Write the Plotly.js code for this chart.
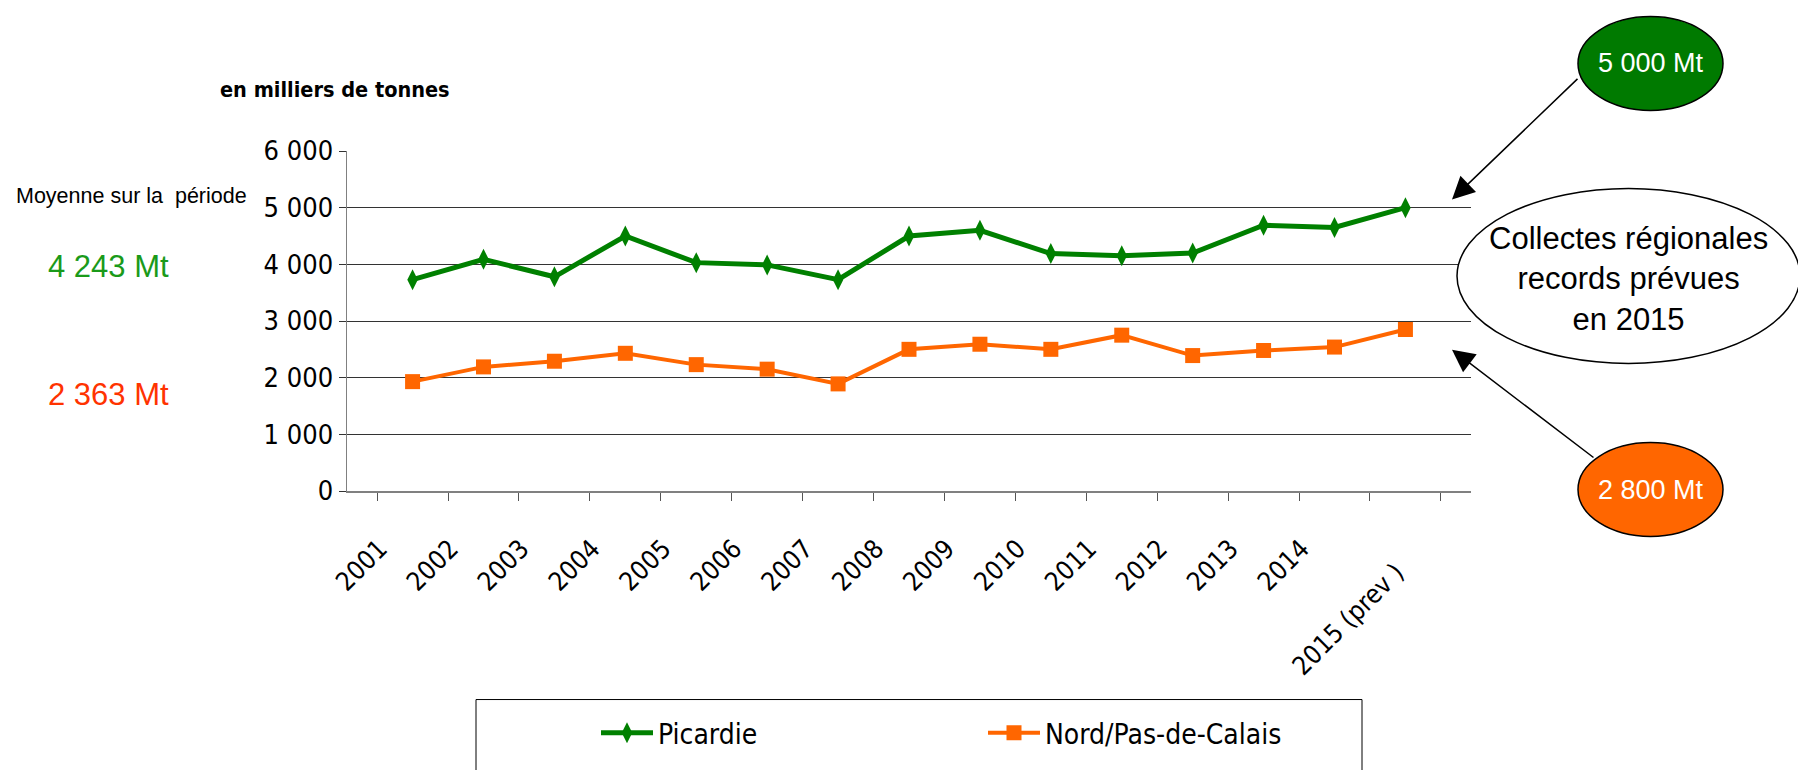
<!DOCTYPE html>
<html>
<head>
<meta charset="utf-8">
<script src="https://cdn.plot.ly/plotly-3.0.1.min.js"></script>
<style>
  html, body { margin: 0; padding: 0; background: #ffffff; }
  #chart { width: 1798px; height: 770px; }
</style>
</head>
<body>
<div id="chart"></div>
<script>
// ---- Data ----
const years = ["2001","2002","2003","2004","2005","2006","2007","2008","2009","2010","2011","2012","2013","2014","2015 (prev )"];
const yearTickText = ["2001","2002","2003","2004","2005","2006","2007","2008","2009","2010","2011","2012","2013","2014","<br>2015 (prev )"];
const picardie = [3730, 4090, 3780, 4500, 4030, 3990, 3730, 4500, 4600, 4190, 4150, 4200, 4690, 4650, 5000];
const nordPasDeCalais = [1930, 2190, 2290, 2430, 2230, 2150, 1890, 2500, 2590, 2500, 2750, 2390, 2480, 2540, 2850];
const seriesNames = ["Picardie", "Nord/Pas-de-Calais"];
const averageLabels = ["4 243 Mt", "2 363 Mt"];
const recordLabels = ["5 000 Mt", "2 800 Mt"];

const NARROW = "Liberation Sans Narrow, Arial Narrow, DejaVu Sans Condensed, sans-serif";
const SANS = "Liberation Sans, Arial, sans-serif";

// plot area geometry (px) used to convert decoration positions to paper coords
const W = 1798, H = 770;
const L = 347, R = 327, T = 151, B = 275;
const PW = W - L - R, PH = H - T - B;
const px = x => (x - L) / PW;
const py = y => (H - B - y) / PH;

const traces = [
  {
    x: years, y: picardie, name: seriesNames[0], type: "scatter", mode: "lines+markers",
    line: { color: "#008000", width: 5 },
    marker: { symbol: "diamond-tall", size: 15, color: "#008000" }
  },
  {
    x: years, y: nordPasDeCalais, name: seriesNames[1], type: "scatter", mode: "lines+markers",
    line: { color: "#FF6600", width: 4 },
    marker: { symbol: "square", size: 15, color: "#FF6600" }
  }
];

const annotations = [
  { text: "<b>en milliers de tonnes</b>", xref: "paper", yref: "paper", x: px(218), y: py(89),
    xanchor: "left", yanchor: "middle", showarrow: false, font: { family: NARROW, size: 21.5, color: "#000" } },
  { text: "Moyenne sur la  période", xref: "paper", yref: "paper", x: px(14), y: py(197),
    xanchor: "left", yanchor: "middle", showarrow: false, font: { family: SANS, size: 21.5, color: "#000" } },
  { text: averageLabels[0], xref: "paper", yref: "paper", x: px(46), y: py(268),
    xanchor: "left", yanchor: "middle", showarrow: false, font: { family: SANS, size: 31, color: "#1A9A1A" } },
  { text: averageLabels[1], xref: "paper", yref: "paper", x: px(46), y: py(397),
    xanchor: "left", yanchor: "middle", showarrow: false, font: { family: SANS, size: 31, color: "#FF3300" } },
  { text: recordLabels[0], xref: "paper", yref: "paper", x: px(1651), y: py(62),
    xanchor: "center", yanchor: "middle", showarrow: false, font: { family: SANS, size: 27, color: "#ffffff" } },
  { text: recordLabels[1], xref: "paper", yref: "paper", x: px(1651), y: py(494),
    xanchor: "center", yanchor: "middle", showarrow: false, font: { family: SANS, size: 27, color: "#ffffff" } },
  { text: "Collectes régionales<br>records prévues<br>en 2015", xref: "paper", yref: "paper", x: px(1628), y: py(280),
    xanchor: "center", yanchor: "middle", align: "center", showarrow: false,
    font: { family: SANS, size: 31, color: "#000" } },
  // arrows
  { text: "", xref: "paper", yref: "paper", x: px(1452), y: py(200), ax: 127, ay: -122,
    showarrow: true, arrowhead: 2, arrowsize: 3, arrowwidth: 1.5, arrowcolor: "#000", standoff: 0 },
  { text: "", xref: "paper", yref: "paper", x: px(1452), y: py(352), ax: 143, ay: 109,
    showarrow: true, arrowhead: 2, arrowsize: 3, arrowwidth: 1.5, arrowcolor: "#000", standoff: 0 }
];

const shapes = [
  { type: "circle", xref: "paper", yref: "paper", x0: px(1578), x1: px(1723), y0: py(15), y1: py(110),
    fillcolor: "#007A00", line: { color: "#000", width: 1.5 }, layer: "above" },
  { type: "circle", xref: "paper", yref: "paper", x0: px(1578), x1: px(1723), y0: py(446), y1: py(541),
    fillcolor: "#FF6600", line: { color: "#000", width: 1.5 }, layer: "above" },
  { type: "circle", xref: "paper", yref: "paper", x0: px(1457), x1: px(1800), y0: py(189), y1: py(366),
    fillcolor: "#ffffff", line: { color: "#000", width: 1.5 }, layer: "above" },
  // legend frame
  { type: "rect", xref: "paper", yref: "paper", x0: px(476), x1: px(1362), y0: py(706), y1: py(790),
    line: { color: "#000", width: 1 }, fillcolor: "rgba(0,0,0,0)" }
];

const layout = {
  width: W, height: H,
  margin: { l: L, r: R, t: T, b: B, pad: 0 },
  paper_bgcolor: "#ffffff", plot_bgcolor: "#ffffff",
  separators: ", ",
  showlegend: true,
  legend: {
    orientation: "h", x: px(596), y: py(740), xanchor: "left", yanchor: "middle",
    font: { family: NARROW, size: 28, color: "#000" },
    itemwidth: 52, entrywidth: 320, entrywidthmode: "pixels",
    bgcolor: "rgba(0,0,0,0)", borderwidth: 0, traceorder: "normal"
  },
  xaxis: {
    type: "category", tickson: "boundaries", ticks: "outside", ticklen: 8, tickcolor: "#555", tickwidth: 1,
    showline: true, linecolor: "#808080", linewidth: 2, showgrid: false, zeroline: false,
    tickmode: "array", tickvals: years, ticktext: yearTickText,
    tickangle: -45, ticklabelstandoff: 30, ticklabelshift: -33,
    tickfont: { family: NARROW, size: 26, color: "#000" }
  },
  yaxis: {
    range: [0, 6000], dtick: 1000, tick0: 0, tickformat: ",d",
    ticks: "outside", ticklen: 7, tickcolor: "#333", tickwidth: 1,
    showline: true, linecolor: "#808080", linewidth: 1.5,
    showgrid: true, gridcolor: "#333", gridwidth: 1, zeroline: false,
    tickfont: { family: NARROW, size: 27, color: "#000" }
  },
  annotations: annotations,
  shapes: shapes,
  hovermode: false
};

Plotly.newPlot("chart", traces, layout, { staticPlot: true, displayModeBar: false });
</script>
</body>
</html>
